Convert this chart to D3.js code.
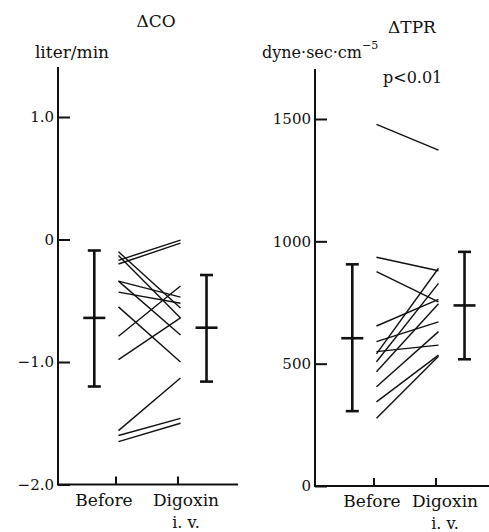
<!DOCTYPE html>
<html lang="en">
<head>
<meta charset="UTF-8">
<title>CO and TPR</title>
<script src="https://cdn.jsdelivr.net/npm/d3@7"></script>
<style>
  body { margin: 0; background: #fff; }
  text { font-family: "DejaVu Serif", "Liberation Serif", serif; fill: #111; }
</style>
</head>
<body>
<svg id="fig" width="489" height="532"></svg>
<script>
// ---- data ----
// ΔCO (liter/min), one pair per patient
let coBefore = [-0.17, -0.20, -0.10, -0.13, -0.34, -0.43, -0.34, -0.55, -0.79, -0.98, -1.56, -1.60, -1.65];
let coAfter  = [-0.005, -0.03, -0.56, -0.64, -0.47, -0.52, -0.78, -1.00, -0.38, -0.64, -1.13, -1.46, -1.50];
// mean ± SD bars [top, mean, bottom]
let coBarBefore = [-0.09, -0.64, -1.20];
let coBarAfter  = [-0.29, -0.72, -1.16];
let coTicks = [1.0, 0, -1.0, -2.0];
let coTickLabels = ["1.0", "0", "\u22121.0", "\u22122.0"];

// ΔTPR (dyne·sec·cm-5)
let tprBefore = [1478, 935, 876, 654, 590, 549, 540, 508, 467, 406, 344, 277];
let tprAfter  = [1373, 880, 753, 763, 671, 576, 890, 828, 745, 631, 535, 530];
let tprBarBefore = [906, 604, 306];
let tprBarAfter  = [957, 738, 518];
let tprTicks = [1500, 1000, 500, 0];
let tprTickLabels = ["1500", "1000", "500", "0"];

let groups = ["Before", "Digoxin"];

const svg = d3.select('#fig');

function panel(p) {
    let g = svg.append('g');
    let y = d3.scaleLinear().domain(p.domain).range(p.yRange);
    let x = d3.scaleLinear().domain([0, 1]).range(p.xRange);

    // y axis with inward ticks
    let ax = d3.axisLeft(y).tickValues(p.ticks)
        .tickFormat((d, i) => p.tickLabels[i])
        .tickSizeInner(-12).tickSizeOuter(0).tickPadding(4);
    let ag = g.append('g').attr('transform', `translate(${p.x0},0)`).call(ax);
    ag.select('.domain').remove();
    ag.selectAll('line').attr('stroke', '#111').attr('stroke-width', 2);
    ag.selectAll('text').attr('font-size', 15).attr('font-family', '"DejaVu Serif", serif');

    // axis lines
    g.append('line').attr('x1', p.x0).attr('x2', p.x0).attr('y1', p.yTop).attr('y2', y(p.domain[0]) + 1)
        .attr('stroke', '#111').attr('stroke-width', 2);
    g.append('line').attr('x1', p.x0).attr('x2', p.xEnd).attr('y1', y(p.domain[0])).attr('y2', y(p.domain[0]))
        .attr('stroke', '#111').attr('stroke-width', 2);
    // x ticks
    g.selectAll('.xt').data(groups).enter().append('line')
        .attr('x1', (d, i) => x(i)).attr('x2', (d, i) => x(i))
        .attr('y1', y(p.domain[0])).attr('y2', y(p.domain[0]) - 8)
        .attr('stroke', '#111').attr('stroke-width', 2);

    // individual lines
    g.selectAll('.pl').data(p.before).enter().append('line')
        .attr('x1', x(0.04)).attr('x2', x(1.04))
        .attr('y1', d => y(d)).attr('y2', (d, i) => y(p.after[i]))
        .attr('stroke', '#111').attr('stroke-width', 1.4);

    // mean ± SD bars
    [[p.barBefore, -0.35], [p.barAfter, 1.46]].forEach(([b, pos]) => {
        let cx = x(pos);
        g.append('line').attr('x1', cx).attr('x2', cx).attr('y1', y(b[0])).attr('y2', y(b[2]))
            .attr('stroke', '#111').attr('stroke-width', 2.6);
        [[b[0], 6.5], [b[1], 11], [b[2], 6.5]].forEach(([v, w]) => {
            g.append('line').attr('x1', cx - w).attr('x2', cx + w).attr('y1', y(v)).attr('y2', y(v))
                .attr('stroke', '#111').attr('stroke-width', 2.6);
        });
    });

    // category labels
    let by = y(p.domain[0]);
    g.append('text').attr('x', p.labelX[0]).attr('y', by + 21).attr('text-anchor', 'middle')
        .attr('font-size', 17).text(groups[0]);
    g.append('text').attr('x', p.labelX[1]).attr('y', by + 21).attr('text-anchor', 'middle')
        .attr('font-size', 17).text(groups[1]);
    g.append('text').attr('x', p.labelX[1]).attr('y', by + 43).attr('text-anchor', 'middle')
        .attr('font-size', 16).text('i. v.');
    return g;
}

let left = panel({
    domain: [-2, 1], yRange: [484.5, 117], yTop: 67,
    x0: 58, xEnd: 238, xRange: [116, 178],
    ticks: coTicks, tickLabels: coTickLabels,
    before: coBefore, after: coAfter,
    barBefore: coBarBefore, barAfter: coBarAfter,
    labelX: [104, 186]
});
left.append('text').attr('x', 156).attr('y', 27).attr('text-anchor', 'middle')
    .attr('font-size', 17).text('\u0394CO');
left.append('text').attr('x', 72).attr('y', 58).attr('text-anchor', 'middle')
    .attr('font-size', 17).text('liter/min');

let right = panel({
    domain: [0, 1500], yRange: [486, 119], yTop: 69,
    x0: 315, xEnd: 489, xRange: [374, 436],
    ticks: tprTicks, tickLabels: tprTickLabels,
    before: tprBefore, after: tprAfter,
    barBefore: tprBarBefore, barAfter: tprBarAfter,
    labelX: [372, 445]
});
right.append('text').attr('x', 412).attr('y', 33).attr('text-anchor', 'middle')
    .attr('font-size', 17).text('\u0394TPR');
let unit = right.append('text').attr('x', 262).attr('y', 58).attr('font-size', 16);
unit.append('tspan').text('dyne\u00b7sec\u00b7cm');
unit.append('tspan').attr('dy', -9).attr('font-size', 11).text('\u22125');
right.append('text').attr('x', 383).attr('y', 83).attr('font-size', 16).text('p<0.01');
</script>
</body>
</html>
